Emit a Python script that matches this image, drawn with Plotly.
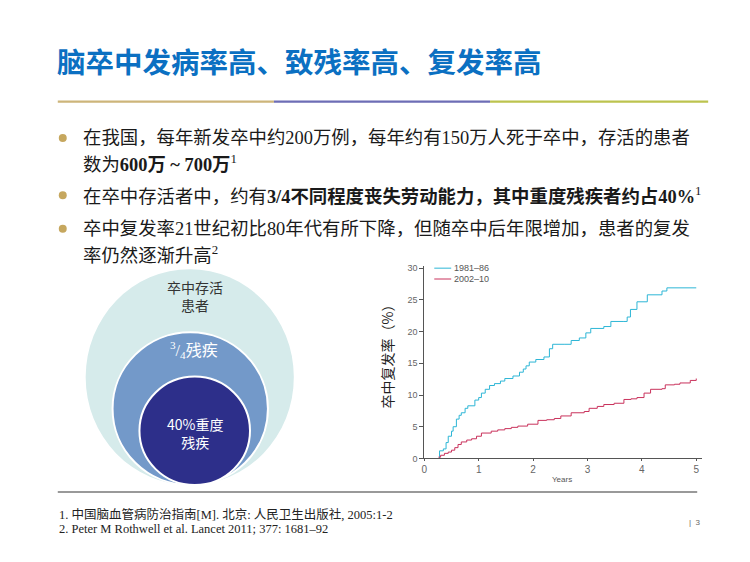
import plotly.graph_objects as go

W, H = 750, 562

# ---------------- data ----------------
series_names = ["1981–86", "2002–10"]
years_a = [0.26, 0.28, 0.35, 0.40, 0.44, 0.50, 0.53, 0.59, 0.64, 0.68, 0.75, 0.80, 0.93, 1.00, 1.05, 1.12, 1.20, 1.29, 1.40, 1.48,
           1.63, 1.75, 1.82, 1.87, 1.93, 2.05, 2.20, 2.30, 2.36, 2.57, 2.70, 2.85, 2.97, 3.06, 3.30, 3.43, 3.67, 3.73,
           3.79, 3.91, 4.10, 4.37, 4.46, 5.00]
rate_a = [0.0, 1.2, 1.5, 2.5, 3.5, 4.3, 5.0, 6.2, 6.8, 7.2, 7.9, 8.3, 9.2, 9.6, 10.3, 10.9, 11.5, 11.8, 12.2, 12.6,
          13.0, 13.6, 14.1, 14.6, 15.2, 15.6, 16.0, 17.3, 18.0, 18.0, 18.6, 19.0, 19.8, 20.5, 20.8, 21.6, 21.6, 22.3,
          23.5, 24.7, 25.8, 26.4, 26.9, 26.9]
years_b = [0.26, 0.30, 0.37, 0.44, 0.50, 0.56, 0.62, 0.68, 0.78, 0.87, 0.96, 1.05, 1.23, 1.35, 1.48, 1.60, 1.72, 1.90, 2.09,
           2.25, 2.39, 2.51, 2.70, 2.94, 3.03, 3.18, 3.30, 3.49, 3.67, 3.80, 3.91, 4.04, 4.16, 4.37, 4.43, 4.60, 4.70,
           4.89, 5.00]
rate_b = [0.2, 0.5, 0.8, 1.0, 1.3, 1.7, 2.2, 2.6, 2.9, 3.1, 3.5, 4.0, 4.3, 4.5, 4.7, 4.9, 5.1, 5.4, 6.0,
          6.1, 6.3, 6.7, 7.2, 7.4, 7.9, 8.2, 8.5, 8.7, 9.3, 9.4, 9.6, 10.3, 10.9, 11.0, 11.6, 11.7, 11.9,
          12.3, 12.6]
x_ticks = [0, 1, 2, 3, 4, 5]
y_ticks = [0, 5, 10, 15, 20, 25, 30]

title_text = "脑卒中发病率高、致残率高、复发率高"
bullet_lines = [
    "在我国，每年新发卒中约200万例，每年约有150万人死于卒中，存活的患者",
    "数为<b>600万 ~ 700万</b><sup>1</sup>",
    "在卒中存活者中，约有<b>3/4不同程度丧失劳动能力，其中重度残疾者约占40%</b><sup>1</sup>",
    "卒中复发率21世纪初比80年代有所下降，但随卒中后年限增加，患者的复发",
    "率仍然逐渐升高<sup>2</sup>",
]
footnotes = [
    "1. 中国脑血管病防治指南[M]. 北京: 人民卫生出版社, 2005:1-2",
    "2. Peter M Rothwell et al. Lancet 2011; 377: 1681–92",
]
circle_labels = ["卒中存活<br>患者", "<sup>3</sup>/<sub>4</sub>残疾", "40%重度<br>残疾"]
y_title = "卒中复发率（%）"
x_title = "Years"

colors = ["#2DB6D6", "#C9325C"]

def px(x):
    return x / W

def py(y):
    return 1 - y / H

fig = go.Figure()
fig.add_trace(go.Scatter(x=years_a, y=rate_a, mode="lines", line=dict(color=colors[0], width=1, shape="hv"),
                         name=series_names[0], showlegend=False))
fig.add_trace(go.Scatter(x=years_b, y=rate_b, mode="lines", line=dict(color=colors[1], width=1, shape="hv"),
                         name=series_names[1], showlegend=False))

MIX = "Liberation Serif, Noto Sans CJK SC"
CJK = "Noto Sans CJK SC"

shapes = []
ann = []

def note(x, y, text, font, xanchor="center", yanchor="middle", **kw):
    ann.append(dict(x=px(x), y=py(y), xref="paper", yref="paper", xanchor=xanchor, yanchor=yanchor,
                    showarrow=False, text=text, font=font, **kw))

# title
note(52, 58, "<b>" + title_text + "</b>", dict(family=CJK, size=28.5, color="#0B70C2"), xanchor="left")
# coloured rule
for (a, b, c) in [(55, 272, "#CDB57A"), (272, 489, "#6D6DB5"), (489, 708, "#BCC34E")]:
    shapes.append(dict(type="line", xref="paper", yref="paper", x0=px(a), x1=px(b), y0=py(100), y1=py(100),
                       line=dict(color=c, width=2.2)))

# bullets
line_y = [137, 163, 195, 229, 255]
for t, yy in zip(bullet_lines, line_y):
    note(78, yy, t, dict(family=MIX, size=18.4, color="#1A1A1A"), xanchor="left")
for yy in [137, 195, 229]:
    shapes.append(dict(type="circle", xref="paper", yref="paper", x0=px(56), x1=px(64), y0=py(yy - 4), y1=py(yy + 4),
                       fillcolor="#C6A75E", line=dict(width=0)))

# circles
for (x0, x1, y0, y1, fc, lw) in [(83, 292, 270, 489, "#D6EBEB", 0), (110, 266, 334, 489, "#7399C9", 2),
                                 (137, 248, 379, 489, "#2D2F8A", 2)]:
    shapes.append(dict(type="circle", xref="paper", yref="paper", x0=px(x0), x1=px(x1), y0=py(y0), y1=py(y1),
                       fillcolor=fc, line=dict(color="white", width=lw), layer="below"))
note(193, 297, circle_labels[0], dict(family=CJK, size=14, color="#333333"))
note(192, 352, circle_labels[1], dict(family=MIX, size=16, color="white"))
note(193, 436, circle_labels[2], dict(family=CJK, size=14, color="white"))

# chart legend (manual)
for i, yy in enumerate([269, 280]):
    shapes.append(dict(type="line", xref="paper", yref="paper", x0=px(433), x1=px(450), y0=py(yy), y1=py(yy),
                       line=dict(color=colors[i], width=1)))
    note(451, yy, series_names[i], dict(family="Liberation Sans", size=9, color="#555"), xanchor="left")

# axis titles
note(385, 355, y_title, dict(family=CJK, size=14, color="#222"), textangle=-90)
note(561, 483, x_title, dict(family="Liberation Sans", size=8, color="#555"))

# footnote rule and notes
shapes.append(dict(type="line", xref="paper", yref="paper", x0=px(55), x1=px(697), y0=py(496), y1=py(496),
                   line=dict(color="#777777", width=1.5)))
for t, yy in zip(footnotes, [519, 534]):
    note(54, yy, t, dict(family=MIX, size=12.5, color="#222"), xanchor="left")
note(687, 527, "|  3", dict(family="Liberation Sans", size=8, color="#666"), xanchor="left")

x_dom = [px(423), px(701.5)]
y_dom = [py(462), py(267.1)]

fig.update_layout(
    width=W, height=H, margin=dict(l=0, r=0, t=0, b=0),
    paper_bgcolor="white", plot_bgcolor="white",
    shapes=shapes, annotations=ann, showlegend=False,
    xaxis=dict(domain=x_dom, range=[0, 5.1], tickvals=x_ticks, showgrid=False, zeroline=False,
               showline=True, linecolor="#555", linewidth=1, ticks="outside", ticklen=2, tickcolor="#555",
               tickfont=dict(family="Liberation Sans", size=10, color="#666")),
    yaxis=dict(domain=y_dom, range=[0, 30.3], tickvals=y_ticks, showgrid=False, zeroline=False,
               showline=True, linecolor="#555", linewidth=1, ticks="outside", ticklen=4, tickcolor="#555",
               tickfont=dict(family="Liberation Sans", size=9, color="#666")),
)

fig.write_html("out.html", config={"displayModeBar": False},
               post_script="document.body.style.margin='0';document.body.style.padding='0';document.body.style.overflow='hidden';")
